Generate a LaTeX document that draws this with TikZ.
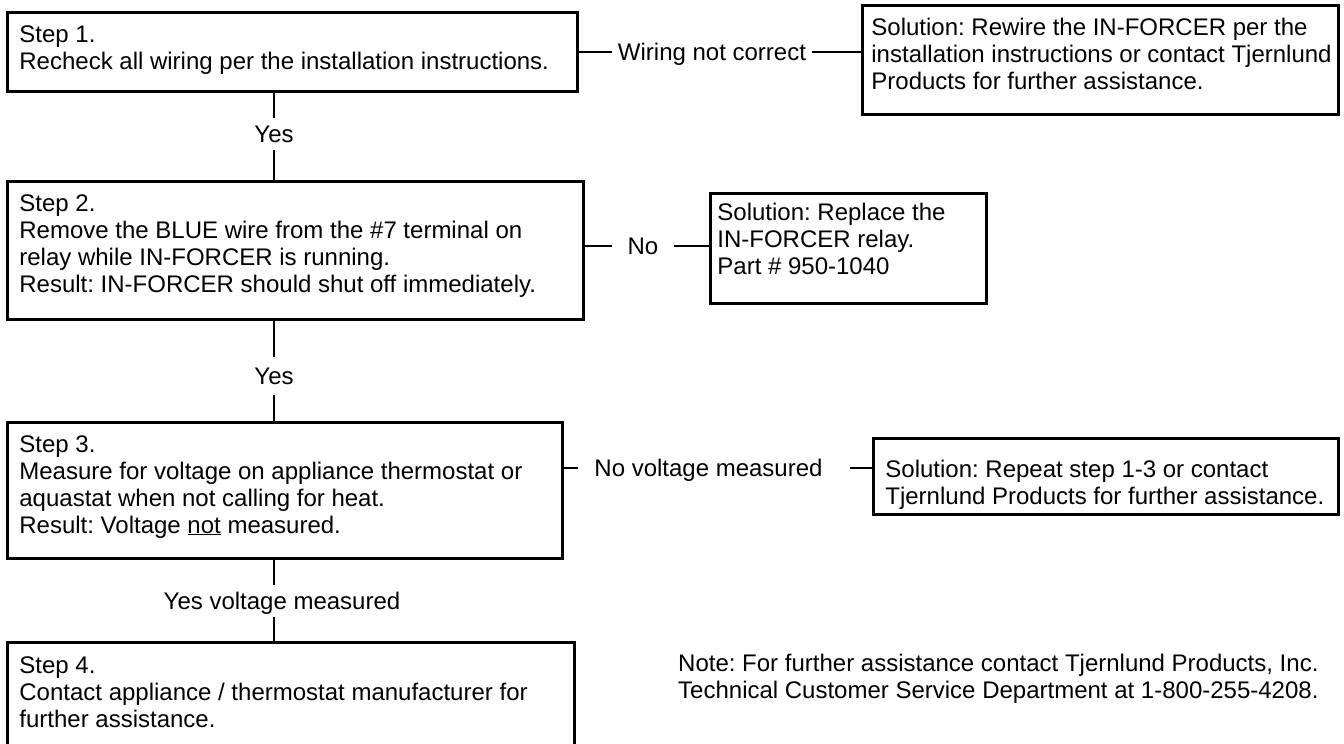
\documentclass[tikz,border=0pt]{standalone}
\usepackage{fontspec}
\setmainfont{Liberation Sans}
\frenchspacing
\newcommand\flowbox[8]{%
  \node[box, minimum width=#4pt, minimum height=#5pt] (#1) at (#2,#3)
  {\parbox[c][#5pt][t]{#4pt}{\vspace*{#7pt}\hspace*{#6pt}\begin{tabular}[t]{@{}l@{}}#8\end{tabular}}};}
\tikzset{
  txt/.style={font=\fontsize{24pt}{27pt}\selectfont\frenchspacing},
  box/.style={txt, draw, line width=2.8pt, inner sep=0pt, anchor=north west},
  lbl/.style={txt, inner ysep=0pt, text height=17.2pt, text depth=0pt},
  vlbl/.style={txt, inner xsep=0pt, text height=17.2pt, text depth=0pt},
  conn/.style={line width=2.8pt},
}
\begin{document}
\begin{tikzpicture}[x=1pt,y=-1pt]
\useasboundingbox (0,0) rectangle (1344,744);
\coordinate (spine) at (274,0);
% boxes
\flowbox{s1}{6}{11}{570}{79}{12}{10.7}{Step 1.\\Recheck all wiring per the installation instructions.}
\flowbox{r1}{861}{4}{476}{109}{9}{10.7}{Solution: Rewire the IN-FORCER per the\\installation instructions or contact Tjernlund\\Products for further assistance.}
\flowbox{s2}{6}{180}{576}{138}{12}{11.5}{Step 2.\\Remove the BLUE wire from the \#7 terminal on\\relay while IN-FORCER is running.\\Result: IN-FORCER should shut off immediately.}
\flowbox{r2}{709}{192}{276}{110}{7}{8}{Solution: Replace the\\IN-FORCER relay.\\Part \# 950-1040}
\flowbox{s3}{6}{421}{555}{136}{12}{10.7}{Step 3.\\Measure for voltage on appliance thermostat or\\aquastat when not calling for heat.\\Result: Voltage \underline{not} measured.}
\flowbox{r3}{872}{437}{465}{76}{12}{19.7}{Solution: Repeat step 1-3 or contact\\Tjernlund Products for further assistance.}
\flowbox{s4}{6}{641}{567}{105}{12}{11.7}{Step 4.\\Contact appliance / thermostat manufacturer for\\further assistance.}
% note
\node[txt, inner sep=0pt, anchor=north west] (note) at (678,652.7)
  {\begin{tabular}[t]{@{}l@{}}Note: For further assistance contact Tjernlund Products, Inc.\\Technical Customer Service Department at 1-800-255-4208.\end{tabular}};
% horizontal connectors
\node[lbl, inner xsep=6pt] (l1) at (712,52) {Wiring not correct};
\draw[conn] (s1.east |- l1) -- (l1.west);
\draw[conn] (l1.east) -- (l1 -| r1.west);
\node[lbl, inner xsep=15pt] (l2) at (643,246) {No};
\draw[conn] (s2.east |- l2) -- (l2.west);
\draw[conn] (l2.east) -- (l2 -| r2.west);
\node[lbl, inner xsep=16pt] (l3) at (708.5,468) {No voltage measured};
\draw[conn] (s3.east |- l3) -- (l3.west);
\draw[conn] ([xshift=11pt]l3.east) -- (l3 -| r3.west);
% vertical connectors
\node[vlbl, inner ysep=7.4pt] (y1) at (274,134) {Yes};
\draw[conn] (s1.south -| spine) -- (spine |- y1.north);
\draw[conn] (spine |- y1.south) -- (s2.north -| spine);
\node[vlbl, inner ysep=10.4pt] (y2) at (274,376) {Yes};
\draw[conn] (s2.south -| spine) -- (spine |- y2.north);
\draw[conn] (spine |- y2.south) -- (s3.north -| spine);
\node[vlbl, inner ysep=7.4pt] (y3) at (282,601) {Yes voltage measured};
\draw[conn] (s3.south -| spine) -- (spine |- y3.north);
\draw[conn] (spine |- y3.south) -- (s4.north -| spine);
\end{tikzpicture}
\end{document}
